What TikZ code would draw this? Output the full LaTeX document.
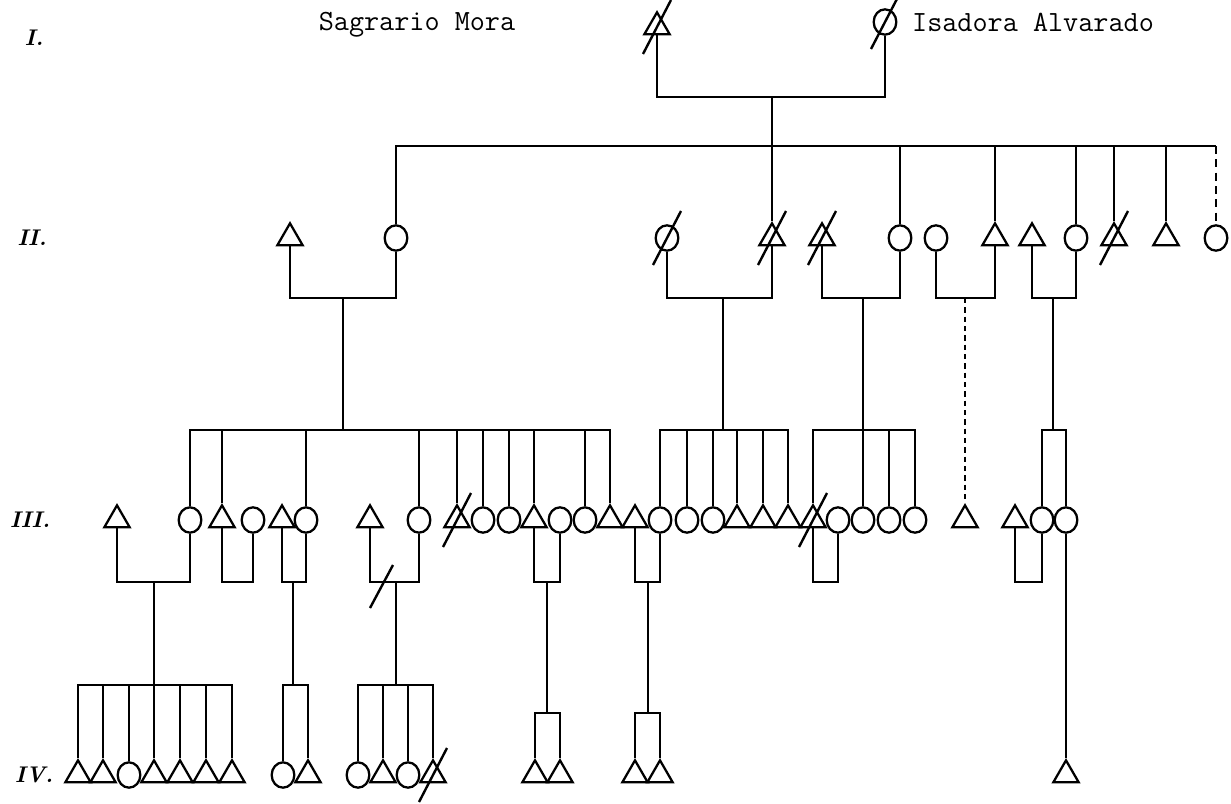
\documentclass[tikz,border=0pt]{standalone}
\usepackage{fontspec}
\usetikzlibrary{shapes.geometric}

\begin{document}
\begin{tikzpicture}[x=0.75pt,y=-0.75pt,
    male/.style={draw, regular polygon, regular polygon sides=3, minimum size=22pt, inner sep=0pt, line width=1.7pt},
    female/.style={draw, ellipse, minimum width=17pt, minimum height=19pt, inner sep=0pt, line width=1.7pt},
    kin/.style={line width=2.2pt},
    deadmark/.style={line width=1.8pt},
    genlabel/.style={font=\fontsize{17}{19}\selectfont\bfseries\itshape},
    nametag/.style={font=\ttfamily\fontsize{22}{26}\selectfont}]

      \useasboundingbox (0,0) rectangle (1231,803);

      % generation labels
      \node[genlabel] (gI)   at (34,38)  {I.};
      \node[genlabel] (gII)  at (32,238) {II.};
      \node[genlabel] (gIII) at (30,520) {III.};
      \node[genlabel] (gIV)  at (34,775) {IV.};

      % generation I
      \node[male]   (A1) at (657,27) {};
      \node[female] (A2) at (885,22) {};
      \node[nametag] (nA1) at (417,25) {Sagrario Mora};
      \node[nametag] (nA2) at (1033,22) {Isadora Alvarado};

      % generation II
      \node[male]   (B1)  at (290,238) {};
      \node[female] (B2)  at (396,238) {};
      \node[female] (B3)  at (667,238) {};
      \node[male]   (B4)  at (772,238) {};
      \node[male]   (B5)  at (822,238) {};
      \node[female] (B6)  at (900,238) {};
      \node[female] (B7)  at (936,238) {};
      \node[male]   (B8)  at (995,238) {};
      \node[male]   (B9)  at (1032,238) {};
      \node[female] (B10) at (1076,238) {};
      \node[male]   (B11) at (1114,238) {};
      \node[male]   (B12) at (1166,238) {};
      \node[female] (B13) at (1216,238) {};

      % generation III
      \node[male]   (C1)  at (117,520) {};
      \node[female] (C2)  at (190,520) {};
      \node[male]   (C3)  at (222,520) {};
      \node[female] (C4)  at (253,520) {};
      \node[male]   (C5)  at (282,520) {};
      \node[female] (C6)  at (306,520) {};
      \node[male]   (C7)  at (370,520) {};
      \node[female] (C8)  at (419,520) {};
      \node[male]   (C9)  at (457,520) {};
      \node[female] (C10) at (483,520) {};
      \node[female] (C11) at (509,520) {};
      \node[male]   (C12) at (534,520) {};
      \node[female] (C13) at (560,520) {};
      \node[female] (C14) at (585,520) {};
      \node[male]   (C15) at (610,520) {};
      \node[male]   (C16) at (635,520) {};
      \node[female] (C17) at (660,520) {};
      \node[female] (C18) at (687,520) {};
      \node[female] (C19) at (713,520) {};
      \node[male]   (C20) at (737,520) {};
      \node[male]   (C21) at (763,520) {};
      \node[male]   (C22) at (788,520) {};
      \node[male]   (C23) at (813,520) {};
      \node[female] (C24) at (838,520) {};
      \node[female] (C25) at (863,520) {};
      \node[female] (C26) at (889,520) {};
      \node[female] (C27) at (915,520) {};
      \node[male]   (C28) at (965,520) {};
      \node[male]   (C29) at (1015,520) {};
      \node[female] (C30) at (1042,520) {};
      \node[female] (C31) at (1066,520) {};

      % generation IV
      \node[male]   (D1)  at (78,775) {};
      \node[male]   (D2)  at (103,775) {};
      \node[female] (D3)  at (129,775) {};
      \node[male]   (D4)  at (154,775) {};
      \node[male]   (D5)  at (180,775) {};
      \node[male]   (D6)  at (206,775) {};
      \node[male]   (D7)  at (232,775) {};
      \node[female] (D8)  at (283,775) {};
      \node[male]   (D9)  at (308,775) {};
      \node[female] (D10) at (358,775) {};
      \node[male]   (D11) at (383,775) {};
      \node[female] (D12) at (408,775) {};
      \node[male]   (D13) at (433,775) {};
      \node[male]   (D14) at (535,775) {};
      \node[male]   (D15) at (560,775) {};
      \node[male]   (D16) at (635,775) {};
      \node[male]   (D17) at (660,775) {};
      \node[male]   (D18) at (1066,775) {};

      % deceased
      \foreach \p in {A1,A2,B3,B4,B5,B11,C9,C23,D13}
        \draw[deadmark] (\p.center) +(-14,27) -- +(14,-27);

      % I -> II
      \coordinate (mA) at (772,97);
      \coordinate (sB) at (772,146);
      \draw[kin] (A1.south) |- (mA) -| (A2.south);
      \draw[kin] (mA) -- (B4.north);
      \draw[kin] (B2.north) |- (B13.north |- sB);
      \draw[kin, dash pattern=on 6pt off 4pt] (B13.north |- sB) -- (B13.north);
      \draw[kin] (B6.north) -- (B6.north |- sB);
      \draw[kin] (B8.north) -- (B8.north |- sB);
      \draw[kin] (B10.north) -- (B10.north |- sB);
      \draw[kin] (B11.north) -- (B11.north |- sB);
      \draw[kin] (B12.north) -- (B12.north |- sB);

      % couples of II
      \coordinate (mB1) at (343,298);
      \coordinate (mB2) at (723,298);
      \coordinate (mB3) at (863,298);
      \coordinate (mB4) at (965,298);
      \coordinate (mB5) at (1053,298);
      \draw[kin] (B1.south) |- (mB1) -| (B2.south);
      \draw[kin] (B3.south) |- (mB2) -| (B4.south);
      \draw[kin] (B5.south) |- (mB3) -| (B6.south);
      \draw[kin] (B7.south) |- (mB4) -| (B8.south);
      \draw[kin] (B9.south) |- (mB5) -| (B10.south);

      % II -> III
      \coordinate (sC1) at (343,430);
      \coordinate (sC2) at (723,430);
      \coordinate (sC3) at (863,430);
      \coordinate (sC5) at (1053,430);
      \draw[kin] (mB1) -- (sC1);
      \draw[kin] (C2.north) |- (sC1) -| (C15.north);
      \draw[kin] (C3.north) -- (C3.north |- sC1);
      \draw[kin] (C6.north) -- (C6.north |- sC1);
      \draw[kin] (C8.north) -- (C8.north |- sC1);
      \draw[kin] (C9.north) -- (C9.north |- sC1);
      \draw[kin] (C10.north) -- (C10.north |- sC1);
      \draw[kin] (C11.north) -- (C11.north |- sC1);
      \draw[kin] (C12.north) -- (C12.north |- sC1);
      \draw[kin] (C14.north) -- (C14.north |- sC1);

      \draw[kin] (mB2) -- (sC2);
      \draw[kin] (C17.north) |- (sC2) -| (C22.north);
      \draw[kin] (C18.north) -- (C18.north |- sC2);
      \draw[kin] (C19.north) -- (C19.north |- sC2);
      \draw[kin] (C20.north) -- (C20.north |- sC2);
      \draw[kin] (C21.north) -- (C21.north |- sC2);

      \draw[kin] (mB3) -- (C25.north);
      \draw[kin] (C23.north) |- (sC3) -| (C27.north);
      \draw[kin] (C26.north) -- (C26.north |- sC3);

      \draw[kin, dash pattern=on 4pt off 3pt] (mB4) -- (C28.north);

      \draw[kin] (mB5) -- (sC5);
      \draw[kin] (C30.north) |- (sC5) -| (C31.north);

      % couples of III
      \coordinate (mC1) at (154,582);
      \coordinate (mC2) at (238,582);
      \coordinate (mC3) at (293,582);
      \coordinate (mC4) at (396,582);
      \coordinate (mC5) at (547,582);
      \coordinate (mC6) at (648,582);
      \coordinate (mC7) at (826,582);
      \coordinate (mC8) at (1028,582);
      \draw[kin] (C1.south) |- (mC1) -| (C2.south);
      \draw[kin] (C3.south) |- (mC2) -| (C4.south);
      \draw[kin] (C5.south) |- (mC3) -| (C6.south);
      \draw[kin] (C7.south) |- (mC4) -| (C8.south);
      \draw[kin] (C12.south) |- (mC5) -| (C13.south);
      \draw[kin] (C16.south) |- (mC6) -| (C17.south);
      \draw[kin] (C23.south) |- (mC7) -| (C24.south);
      \draw[kin] (C29.south) |- (mC8) -| (C30.south);
      \draw[deadmark] (mC4) +(-26,26) -- +(-3,-17);

      % III -> IV
      \coordinate (kD1) at (154,685);
      \coordinate (kD2) at (293,685);
      \coordinate (kD3) at (396,685);
      \coordinate (kD4) at (547,713);
      \coordinate (kD5) at (648,713);
      \draw[kin] (mC1) -- (D4.north);
      \draw[kin] (D1.north) |- (kD1) -| (D7.north);
      \draw[kin] (D2.north) -- (D2.north |- kD1);
      \draw[kin] (D3.north) -- (D3.north |- kD1);
      \draw[kin] (D5.north) -- (D5.north |- kD1);
      \draw[kin] (D6.north) -- (D6.north |- kD1);

      \draw[kin] (mC3) -- (kD2);
      \draw[kin] (D8.north) |- (kD2) -| (D9.north);

      \draw[kin] (mC4) -- (kD3);
      \draw[kin] (D10.north) |- (kD3) -| (D13.north);
      \draw[kin] (D11.north) -- (D11.north |- kD3);
      \draw[kin] (D12.north) -- (D12.north |- kD3);

      \draw[kin] (mC5) -- (kD4);
      \draw[kin] (D14.north) |- (kD4) -| (D15.north);

      \draw[kin] (mC6) -- (kD5);
      \draw[kin] (D16.north) |- (kD5) -| (D17.north);

      \draw[kin] (C31.south) -- (D18.north);

    \end{tikzpicture}
\end{document}
